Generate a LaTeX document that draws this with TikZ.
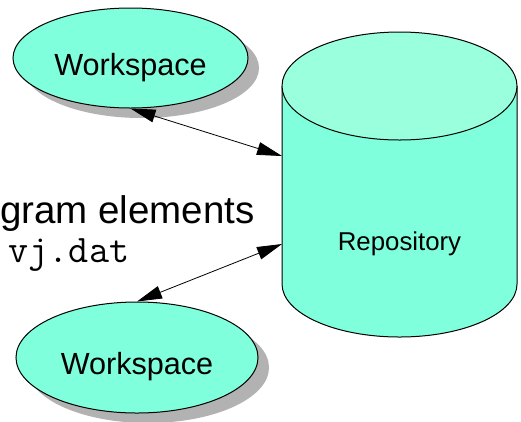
\documentclass[tikz,border=0pt]{standalone}
\usepackage{fontspec}
\setmainfont{Liberation Sans}
\usetikzlibrary{shapes.geometric,shadows,arrows.meta}
\definecolor{wsgreen}{RGB}{127,255,220}
\definecolor{topgreen}{RGB}{153,255,221}
\definecolor{shadowgray}{RGB}{178,178,178}
\tikzset{
	wsnode/.style={ellipse, draw=black, line width=1pt, fill=wsgreen, inner sep=0pt,
		text height=40pt, text depth=6pt, font=\fontsize{30.6}{36}\selectfont,
		drop shadow={shadow xshift=11pt, shadow yshift=-10pt, fill=shadowgray, opacity=1}},
	link/.style={{Triangle[length=25pt,width=13pt]}-{Triangle[length=25pt,width=13pt]}, line width=0.8pt}
}
\begin{document}
\begin{tikzpicture}[x=1pt,y=-1pt]
		\clip (0,0) rectangle (521,421);
		\fill[white] (0,0) rectangle (521,421);

		% workspaces
		\node[wsnode, minimum width=235pt, minimum height=100pt] (ws1) at (130.5,58) {Workspace};
		\node[wsnode, minimum width=242pt, minimum height=111pt] (ws2) at (137,357.5) {Workspace};

		% repository
		\filldraw[fill=wsgreen, line width=1pt] (282,86) -- (282,284) arc[start angle=180, end angle=360, x radius=117.5pt, y radius=53pt] -- (517,86);
		\filldraw[fill=topgreen, line width=1pt] (399.5,86) ellipse [x radius=117.5pt, y radius=54pt];
		\node[anchor=base, font=\fontsize{25.8}{30}\selectfont] (repo) at (399.5,250) {Repository};
		\coordinate (repoA) at (282,156);
		\coordinate (repoB) at (282,244);

		% text in the back
		\node[anchor=base west, inner sep=0pt, font=\fontsize{38.5}{46}\selectfont] (elems) at (0,223) {gram elements};
		\node[anchor=base west, inner sep=0pt, font=\ttfamily\fontsize{39}{46}\selectfont] (datfile) at (8.5,262) {vj.dat};

		\draw[link] (ws1.south) -- (repoA);
		\draw[link] (repoB) -- (ws2.north);
	\end{tikzpicture}
\end{document}
